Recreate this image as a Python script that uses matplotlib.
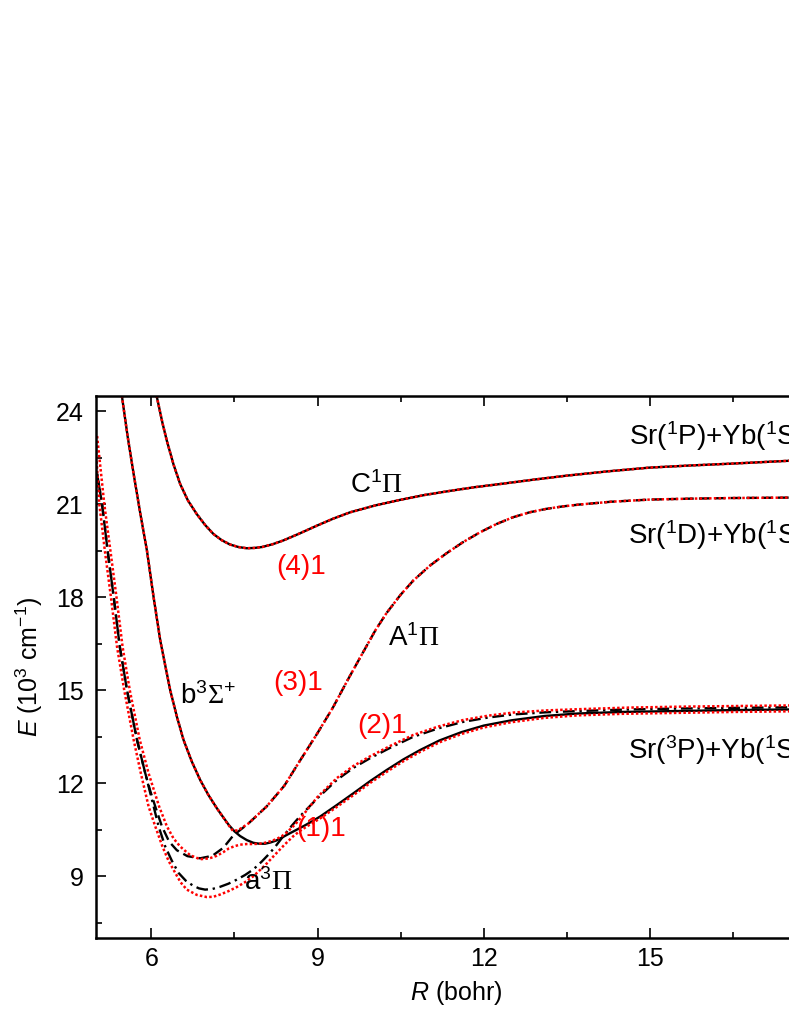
import matplotlib
matplotlib.use("Agg")
import matplotlib.pyplot as plt

plt.rcParams['font.family'] = ['Liberation Sans', 'DejaVu Sans']
plt.rcParams['mathtext.fontset'] = 'custom'
plt.rcParams['mathtext.rm'] = 'Liberation Serif'
plt.rcParams['mathtext.it'] = 'Liberation Sans:italic'
plt.rcParams['mathtext.sf'] = 'Liberation Sans'

# ---------------- data (R in bohr, E in 10^3 cm^-1) ----------------
# Non-relativistic states (black)
c1pi_R = [6.05, 6.10, 6.20, 6.28, 6.40, 6.52, 6.66, 6.82, 6.97, 7.12, 7.27, 7.42, 7.57, 7.72, 7.86, 8.00,
          8.19, 8.38, 8.68, 8.99, 9.29, 9.59, 10.04, 10.49, 10.94, 11.39, 11.84, 12.29, 12.89, 13.49,
          14.24, 14.99, 15.74, 16.49, 17.50, 18.00]
c1pi_E = [24.8, 24.45, 23.62, 23.04, 22.28, 21.65, 21.12, 20.68, 20.33, 20.04, 19.84, 19.70, 19.62, 19.58, 19.59, 19.62,
          19.71, 19.83, 20.06, 20.31, 20.54, 20.74, 20.96, 21.14, 21.30, 21.43, 21.55, 21.65, 21.79, 21.92,
          22.06, 22.18, 22.25, 22.31, 22.40, 22.43]

a1pi_R = [4.98, 5.00, 5.11, 5.21, 5.32, 5.43, 5.56, 5.74, 5.89, 5.98, 6.07, 6.19, 6.32, 6.46, 6.65, 6.88,
          7.10, 7.30, 7.48, 7.75, 8.08, 8.40, 8.68, 9.00, 9.28, 9.55, 9.83, 10.05, 10.25, 10.50, 10.73,
          11.03, 11.33, 11.63, 11.93, 12.23, 12.53, 12.83, 13.13, 13.43, 13.73, 14.30, 15.00, 15.75,
          16.50, 17.25, 18.00]
a1pi_E = [22.5, 22.2, 21.0, 19.5, 18.0, 16.4, 15.0, 13.4, 12.32, 11.75, 11.25, 10.61, 10.12, 9.84, 9.65, 9.58,
          9.66, 9.92, 10.32, 10.70, 11.25, 11.92, 12.72, 13.62, 14.45, 15.35, 16.25, 16.95, 17.50, 18.08, 18.54,
          19.02, 19.42, 19.78, 20.09, 20.36, 20.58, 20.74, 20.85, 20.93, 20.99, 21.08, 21.15, 21.18,
          21.20, 21.21, 21.22]

b3sig_R = [5.43, 5.47, 5.57, 5.68, 5.80, 5.92, 6.04, 6.16, 6.25, 6.34, 6.46, 6.58, 6.73, 6.88, 7.03, 7.18,
           7.29, 7.40, 7.50, 7.60, 7.72, 7.84, 7.95, 8.05, 8.15, 8.25, 8.35, 8.45, 8.60, 8.75, 8.90, 9.05,
           9.35, 9.65, 9.95, 10.25, 10.55, 10.85, 11.20, 11.60, 12.00, 12.50, 13.10, 13.70, 14.50, 15.50,
           16.50, 17.50, 18.00]
b3sig_E = [24.8, 24.46, 23.20, 21.97, 20.70, 19.50, 18.00, 16.61, 15.80, 15.00, 14.15, 13.40, 12.70, 12.11, 11.62, 11.20,
           10.92, 10.65, 10.45, 10.30, 10.17, 10.08, 10.05, 10.05, 10.09, 10.15, 10.24, 10.34, 10.48, 10.62, 10.77, 10.93,
           11.30, 11.68, 12.07, 12.43, 12.77, 13.07, 13.38, 13.65, 13.86, 14.03, 14.17, 14.25, 14.30, 14.33,
           14.36, 14.38, 14.39]

a3pi_R = [4.98, 5.00, 5.11, 5.21, 5.32, 5.43, 5.56, 5.74, 5.89, 6.02, 6.13, 6.25, 6.37, 6.49, 6.62, 6.75,
          6.86, 6.97, 7.10, 7.24, 7.39, 7.54, 7.69, 7.84, 7.99, 8.14, 8.26, 8.38, 8.53, 8.68, 9.00, 9.35,
          9.65, 9.95, 10.34, 10.73, 11.18, 11.63, 12.08, 12.53, 13.13, 13.73, 14.60, 15.53, 16.50, 17.50, 18.00]
a3pi_E = [22.5, 22.2, 21.0, 19.5, 18.0, 16.4, 15.0, 13.4, 12.32, 11.40, 10.61, 9.96, 9.50, 9.11, 8.86, 8.70,
          8.61, 8.57, 8.59, 8.66, 8.76, 8.89, 9.04, 9.22, 9.47, 9.75, 10.01, 10.29, 10.62, 10.93, 11.52, 12.11,
          12.50, 12.81, 13.17, 13.50, 13.77, 13.98, 14.12, 14.22, 14.29, 14.33, 14.38, 14.41, 14.43, 14.45, 14.46]

# Omega = 1 relativistic states (red dotted)
o1_1_R = [4.98, 5.06, 5.16, 5.27, 5.38, 5.51, 5.68, 5.81, 5.95, 6.07, 6.20, 6.31, 6.43, 6.53, 6.64, 6.82,
          7.00, 7.12, 7.24, 7.39, 7.54, 7.69, 7.84, 8.05, 8.26, 8.41, 8.56, 8.68, 8.80, 9.05, 9.35, 9.65,
          9.95, 10.25, 10.55, 10.85, 11.20, 11.60, 12.00, 12.50, 13.10, 13.70, 14.50, 15.50, 16.50, 17.50, 18.00]
o1_1_E = [23.3, 21.0, 19.5, 18.0, 16.4, 15.0, 13.4, 12.32, 11.25, 10.61, 9.96, 9.50, 9.11, 8.80, 8.57, 8.40,
          8.33, 8.34, 8.41, 8.52, 8.65, 8.81, 9.00, 9.35, 9.75, 10.03, 10.29, 10.46, 10.60, 10.87, 11.24, 11.62,
          12.01, 12.37, 12.71, 13.01, 13.32, 13.59, 13.80, 13.97, 14.11, 14.19, 14.24, 14.27, 14.30, 14.32, 14.33]

o1_2_R = [5.02, 5.15, 5.26, 5.37, 5.48, 5.61, 5.79, 5.95, 6.14, 6.28, 6.40, 6.52, 6.70, 6.88, 7.05, 7.18,
          7.30, 7.40, 7.50, 7.60, 7.72, 7.84, 7.95, 8.05, 8.15, 8.26, 8.36, 8.45, 8.60, 8.74, 9.00, 9.35,
          9.65, 9.95, 10.34, 10.73, 11.18, 11.63, 12.08, 12.53, 13.13, 13.73, 14.60, 15.53, 16.50, 17.50, 18.00]
o1_2_E = [23.2, 21.0, 19.5, 18.0, 16.4, 15.0, 13.4, 12.32, 11.25, 10.61, 10.22, 9.96, 9.68, 9.55, 9.58, 9.66,
          9.78, 9.90, 9.97, 10.02, 10.04, 10.04, 10.05, 10.08, 10.13, 10.20, 10.30, 10.42, 10.68, 10.98, 11.56, 12.17,
          12.56, 12.87, 13.23, 13.56, 13.83, 14.04, 14.18, 14.28, 14.35, 14.39, 14.44, 14.47, 14.49, 14.51, 14.52]

o1_3_R = [5.43, 5.47, 5.57, 5.68, 5.80, 5.92, 6.04, 6.16, 6.25, 6.34, 6.46, 6.58, 6.73, 6.88, 7.03, 7.18,
          7.29, 7.38, 7.47, 7.56, 7.75, 8.08, 8.40, 8.68, 9.00, 9.28, 9.55, 9.83, 10.05, 10.25, 10.50, 10.73,
          11.03, 11.33, 11.63, 11.93, 12.23, 12.53, 12.83, 13.13, 13.43, 13.73, 14.30, 15.00, 15.75,
          16.50, 17.25, 18.00]
o1_3_E = [24.8, 24.46, 23.20, 21.97, 20.70, 19.50, 18.00, 16.61, 15.80, 15.00, 14.15, 13.40, 12.70, 12.11, 11.62, 11.20,
          10.92, 10.68, 10.47, 10.48, 10.70, 11.25, 11.92, 12.72, 13.62, 14.45, 15.35, 16.25, 16.95, 17.50, 18.08, 18.54,
          19.02, 19.42, 19.78, 20.09, 20.36, 20.58, 20.74, 20.85, 20.93, 20.99, 21.08, 21.15, 21.18,
          21.20, 21.21, 21.22]

o1_4_R = c1pi_R
o1_4_E = c1pi_E

x_ticks = [6, 9, 12, 15, 18]
y_ticks = [9, 12, 15, 18, 21, 24]

# ---------------- figure ----------------
fig = plt.figure(figsize=(7.89, 10.21), dpi=100)
ax = fig.add_axes([96/789, 1 - 938.3/1021, 720/789, (938.3 - 395.7)/1021])

lw = 1.7
ax.plot(c1pi_R, c1pi_E, color='black', lw=lw, ls='-')
ax.plot(b3sig_R, b3sig_E, color='black', lw=lw, ls='-')
ax.plot(a1pi_R, a1pi_E, color='black', lw=lw, ls=(0, (4.5, 2.2)))
ax.plot(a3pi_R, a3pi_E, color='black', lw=lw, ls=(0, (5, 2, 1, 2)))

rls = (0, (1, 0.9))
for R, E in [(o1_1_R, o1_1_E), (o1_2_R, o1_2_E), (o1_3_R, o1_3_E), (o1_4_R, o1_4_E)]:
    ax.plot(R, E, color='red', lw=1.8, ls=rls)

ax.set_xlim(5, 18)
ax.set_ylim(7, 24.5)
ax.set_xticks(x_ticks)
ax.set_yticks(y_ticks)
ax.set_xticks([7.5, 10.5, 13.5, 16.5], minor=True)
ax.set_yticks([7.5, 10.5, 13.5, 16.5, 19.5, 22.5], minor=True)
ax.tick_params(which='both', direction='in', top=True, right=True, width=1.2)
ax.tick_params(which='major', length=7.5)
ax.tick_params(which='minor', length=4.5)
ax.tick_params(axis='y', labelsize=18, pad=9)
ax.tick_params(axis='x', labelsize=18, pad=6)
for s in ax.spines.values():
    s.set_linewidth(1.8)

ax.set_xlabel(r'$\mathit{R}$ (bohr)', fontsize=18, labelpad=6)
ax.set_ylabel(r'$\mathit{E}$ (10$^{\mathsf{3}}$ cm$^{\mathsf{-1}}$)', fontsize=18, labelpad=8)

fs = 20
ax.text(10.06, 21.63, r'C$^{\mathsf{1}}\Pi$', fontsize=fs, ha='center', va='center', color='black')
ax.text(8.70, 18.97, '(4)1', fontsize=fs, ha='center', va='center', color='red')
ax.text(10.73, 16.68, r'A$^{\mathsf{1}}\Pi$', fontsize=fs, ha='center', va='center', color='black')
ax.text(8.65, 15.22, '(3)1', fontsize=fs, ha='center', va='center', color='red')
ax.text(7.03, 14.80, r'b$^{\mathsf{3}}\Sigma^{\mathsf{+}}$', fontsize=fs, ha='center', va='center', color='black')
ax.text(10.16, 13.85, '(2)1', fontsize=fs, ha='center', va='center', color='red')
ax.text(9.06, 10.53, '(1)1', fontsize=fs, ha='center', va='center', color='red')
ax.text(8.11, 8.80, r'a$^{\mathsf{3}}\Pi$', fontsize=fs, ha='center', va='center', color='black')
ax.text(14.63, 23.2, r'Sr($^{\mathsf{1}}$P)+Yb($^{\mathsf{1}}$S)', fontsize=fs, ha='left', va='center')
ax.text(14.60, 20.0, r'Sr($^{\mathsf{1}}$D)+Yb($^{\mathsf{1}}$S)', fontsize=fs, ha='left', va='center')
ax.text(14.60, 13.07, r'Sr($^{\mathsf{3}}$P)+Yb($^{\mathsf{1}}$S)', fontsize=fs, ha='left', va='center')

fig.savefig('out.png', dpi=100)
